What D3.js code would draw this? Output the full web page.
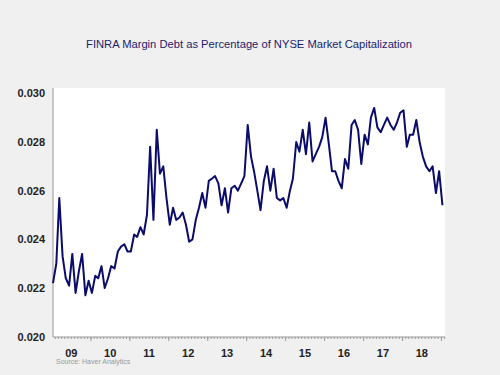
<!DOCTYPE html>
<html><head><meta charset="utf-8">
<script src="https://cdn.jsdelivr.net/npm/d3@7"></script>
<style>body{margin:0;background:#f0f0f0}svg{display:block}</style>
</head><body><svg id="c" width="500" height="375"></svg>
<script>
const title = "FINRA Margin Debt as Percentage of NYSE Market Capitalization";
const source = "Source: Haver Analytics";
const startYear = 2009;
// Monthly values, Jan 2009 – Jan 2019
const values = [
  0.0222,0.0230,0.0257,0.0233,0.0224,0.0221,0.0234,0.0218,0.0227,0.0234,0.0217,0.0223,
  0.0218,0.0225,0.0224,0.0229,0.0220,0.0224,0.0229,0.0228,0.0235,0.0237,0.0238,0.0235,
  0.0235,0.0242,0.0241,0.0245,0.0242,0.0250,0.0278,0.0248,0.0285,0.0267,0.0270,0.0257,
  0.0246,0.0253,0.0248,0.0249,0.0251,0.0246,0.0239,0.0240,0.0248,0.0253,0.0259,0.0253,
  0.0264,0.0265,0.0266,0.0263,0.0254,0.0261,0.0251,0.0261,0.0262,0.0260,0.0263,0.0266,
  0.0287,0.0274,0.0268,0.0260,0.0252,0.0264,0.0270,0.0260,0.0269,0.0257,0.0256,0.0257,
  0.0253,0.0260,0.0265,0.0280,0.0276,0.0285,0.0275,0.0288,0.0272,0.0275,0.0278,0.0282,
  0.0290,0.0279,0.0268,0.0268,0.0264,0.0261,0.0273,0.0269,0.0287,0.0289,0.0285,0.0271,
  0.0283,0.0279,0.0290,0.0294,0.0286,0.0284,0.0287,0.0290,0.0287,0.0285,0.0288,0.0292,
  0.0293,0.0278,0.0283,0.0283,0.0289,0.0280,0.0274,0.0270,0.0268,0.0270,0.0259,0.0268,
  0.0254
];
const yTicks = [0.020,0.022,0.024,0.026,0.028,0.030];
const yearLabels = ["09","10","11","12","13","14","15","16","17","18"];

const svg = d3.select("#c");
const W = 500, H = 375;
const plot = {left:53, right:445, top:88, bottom:337};

svg.append("rect").attr("width",W).attr("height",H).attr("fill","#f0f0f0");
svg.append("rect").attr("x",plot.left).attr("y",plot.top)
  .attr("width",plot.right-plot.left).attr("height",plot.bottom-plot.top).attr("fill","#ffffff");

const dates = values.map((v,i)=>new Date(startYear, i, 15));
const x = d3.scaleTime().domain([new Date(2009,0,15), new Date(2019,1,8)]).range([plot.left, plot.right]);
const y = d3.scaleLinear().domain([0.020,0.030]).range([336.7, 93.3]);

// title
svg.append("text").attr("x",249).attr("y",48).attr("text-anchor","middle")
  .attr("font-family","Liberation Sans, Arial, sans-serif").attr("font-size",11.2)
  .attr("fill","#1c1c6e").text(title);

// y axis
const ya = svg.append("g").attr("transform",`translate(${plot.left},0)`)
  .call(d3.axisLeft(y).tickValues(yTicks).tickSize(0).tickPadding(8).tickFormat(d3.format(".3f")));
ya.select(".domain").attr("stroke","#999").attr("d",`M0,${plot.top}V${plot.bottom}`);
ya.selectAll("text").attr("font-family","Liberation Sans, Arial, sans-serif")
  .attr("font-size",11).attr("font-weight","bold").attr("fill","#222");

// x axis minor (monthly) ticks
const monthTicks = d3.timeMonth.range(new Date(2009,1,1), new Date(2019,1,2));
const xa1 = svg.append("g").attr("transform",`translate(0,${plot.bottom})`)
  .call(d3.axisBottom(x).tickValues(monthTicks).tickSize(2).tickFormat(""));
xa1.select(".domain").attr("stroke","#999").attr("d",`M${plot.left},0H${plot.right}`);
xa1.selectAll("line").attr("stroke","#999");
// major (yearly) ticks
const yearTicks = d3.timeYear.range(new Date(2010,0,1), new Date(2019,0,2));
const xa2 = svg.append("g").attr("transform",`translate(0,${plot.bottom})`)
  .call(d3.axisBottom(x).tickValues(yearTicks).tickSize(4).tickFormat(""));
xa2.select(".domain").remove();
xa2.selectAll("line").attr("stroke","#999");
// year labels at mid-year
const labelDates = yearLabels.map((l,i)=>new Date(startYear+i,6,1));
const xa3 = svg.append("g").attr("transform",`translate(0,${plot.bottom})`)
  .call(d3.axisBottom(x).tickValues(labelDates).tickSize(0).tickPadding(12)
    .tickFormat((d,i)=>yearLabels[i]));
xa3.select(".domain").remove();
xa3.selectAll("text").attr("font-family","Liberation Sans, Arial, sans-serif")
  .attr("font-size",11).attr("font-weight","bold").attr("fill","#222");

// source
svg.append("text").attr("x",56).attr("y",364)
  .attr("font-family","Liberation Sans, Arial, sans-serif").attr("font-size",7)
  .attr("fill","#999").text(source);

// line
const line = d3.line().x((d,i)=>x(dates[i])).y(d=>y(d));
svg.append("path").datum(values).attr("d",line).attr("fill","none")
  .attr("stroke","#0b0b6b").attr("stroke-width",2).attr("stroke-linejoin","round");
</script>
</body></html>
